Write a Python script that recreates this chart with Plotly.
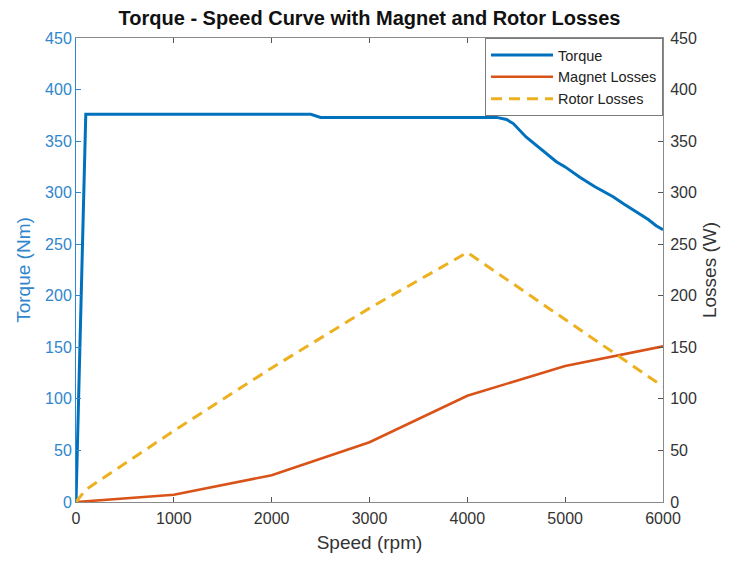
import plotly.graph_objects as go

# Torque curve (Nm) versus speed (rpm)
torque_speed = [0, 100, 500, 1000, 1500, 2000, 2400, 2500, 3000, 3500, 4000, 4300,
                4400, 4470, 4600, 4700, 4810, 4910, 5000, 5150, 5300, 5490, 5600,
                5700, 5770, 5850, 5930, 6000]
torque_nm = [0, 376, 376, 376, 376, 376, 376, 373, 373, 373, 373, 373,
             371, 367, 354, 346, 338, 330, 325, 315, 306, 296, 289,
             283, 278, 274, 268, 264]

# Loss curves (W) sampled every 1000 rpm
loss_speed = [0, 1000, 2000, 3000, 4000, 5000, 6000]
magnet_losses_w = [0, 7, 26, 58, 103, 132, 151]

rotor_speed = [0, 100, 1000, 2000, 3000, 4000, 5000, 6000]
rotor_losses_w = [0, 12, 69, 130, 188, 242, 177, 112]

BLUE = "#0072BD"
ORANGE = "#D95319"
YELLOW = "#EDB120"
AXIS_BLUE = "#2f86cc"
FONT = "Liberation Sans, Arial, sans-serif"

fig = go.Figure()
fig.add_trace(go.Scatter(x=torque_speed, y=torque_nm, mode="lines", name="Torque",
                         line=dict(color=BLUE, width=3), yaxis="y"))
fig.add_trace(go.Scatter(x=loss_speed, y=magnet_losses_w, mode="lines", name="Magnet Losses",
                         line=dict(color=ORANGE, width=2.6), yaxis="y2"))
fig.add_trace(go.Scatter(x=rotor_speed, y=rotor_losses_w, mode="lines", name="Rotor Losses",
                         line=dict(color=YELLOW, width=3, dash="11px,7px"), yaxis="y2"))

tick_vals = list(range(0, 451, 50))

fig.update_layout(
    width=729, height=561,
    margin=dict(l=76, r=66, t=38, b=59),
    paper_bgcolor="white", plot_bgcolor="white",
    font=dict(family=FONT, size=16, color="#262626"),
    showlegend=True,
    title=dict(text="<b>Torque - Speed Curve with Magnet and Rotor Losses</b>",
               x=(76 + 663) / 2 / 729, xanchor="center", y=0.968, yanchor="middle",
               font=dict(size=20, color="#111111")),
    xaxis=dict(range=[0, 6000], tickvals=list(range(0, 6001, 1000)),
               showgrid=False, zeroline=False, showline=True, linecolor="#8a8a8a",
               linewidth=1, mirror="ticks", ticks="inside", ticklen=5,
               tickcolor="#555555", tickfont=dict(size=16, color="#333333"),
               ticklabelstandoff=2,
               title=dict(text="Speed (rpm)", font=dict(size=19, color="#333333"),
                          standoff=9)),
    yaxis=dict(range=[0, 450], tickvals=tick_vals, showgrid=False, zeroline=False,
               showline=True, linecolor=AXIS_BLUE, linewidth=1, ticks="inside",
               ticklen=5, tickcolor=AXIS_BLUE,
               tickfont=dict(size=16, color=AXIS_BLUE),
               title=dict(text="Torque (Nm)", font=dict(size=19, color=AXIS_BLUE),
                          standoff=9)),
    yaxis2=dict(range=[0, 450], tickvals=tick_vals, overlaying="y", side="right",
                showgrid=False, zeroline=False, showline=True, linecolor="#8a8a8a",
                linewidth=1, ticks="inside", ticklen=5, tickcolor="#555555",
                tickfont=dict(size=16, color="#333333"), ticklabelstandoff=3,
                title=dict(text="Losses (W)", font=dict(size=19, color="#333333"),
                           standoff=6)),
    legend=dict(x=1, y=1, xanchor="right", yanchor="top",
                bgcolor="white", bordercolor="#7a7a7a", borderwidth=1,
                font=dict(size=14.5, color="#222222"),
                itemwidth=62, tracegroupgap=0),
)

fig.write_html("out.html")
